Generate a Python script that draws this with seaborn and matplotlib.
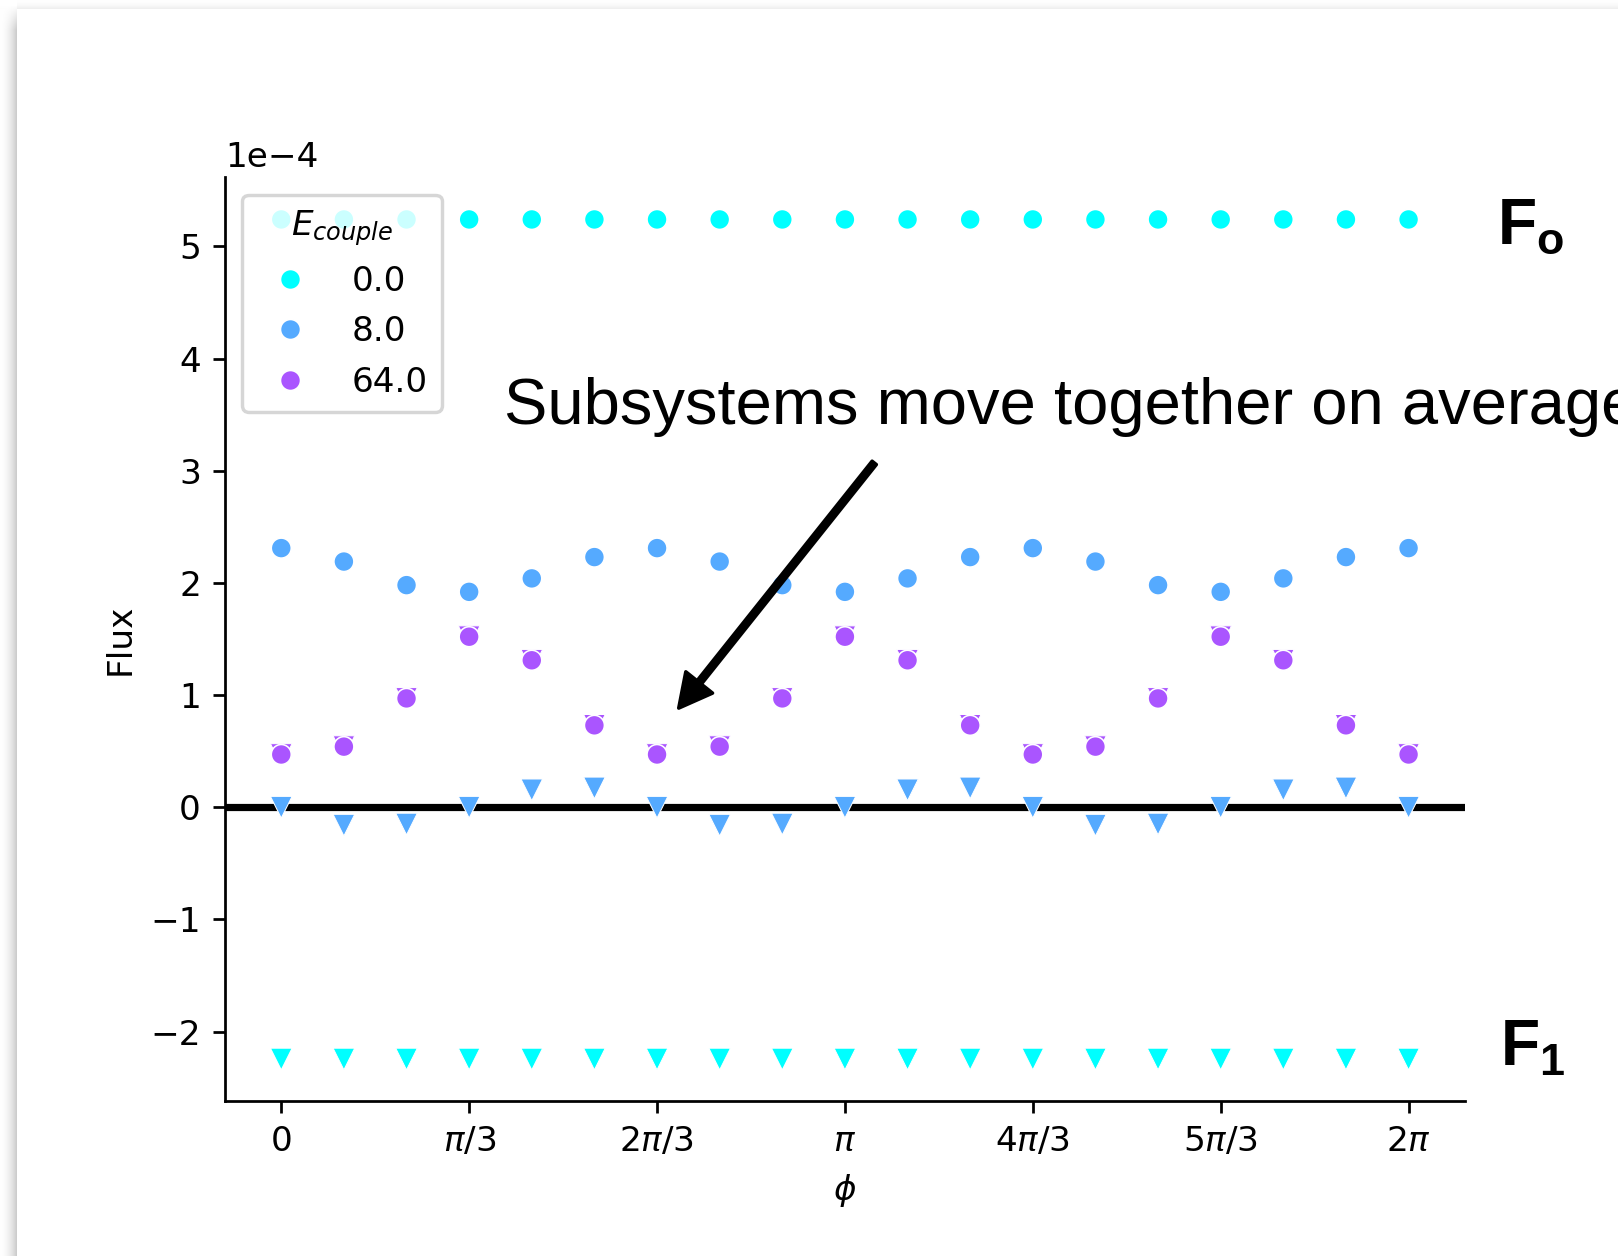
import numpy as np
import pandas as pd
import matplotlib
matplotlib.use('Agg')
import matplotlib.pyplot as plt
import seaborn as sns

W, H, DPI = 1618, 1256, 247

# phase grid in steps of pi/9 (0 .. 2pi)
phi_steps = [0, 1, 2, 3, 4, 5, 6, 7, 8, 9, 10, 11, 12, 13, 14, 15, 16, 17, 18]
ecouple_levels = ['0.0', '8.0', '64.0']
palette = ['#00ffff', '#55aaff', '#aa55ff']

# flux values (units of 1e-4)
flux_o_0 = [5.24, 5.24, 5.24, 5.24, 5.24, 5.24, 5.24, 5.24, 5.24, 5.24,
            5.24, 5.24, 5.24, 5.24, 5.24, 5.24, 5.24, 5.24, 5.24]
flux_1_0 = [-2.245, -2.245, -2.245, -2.245, -2.245, -2.245, -2.245, -2.245, -2.245, -2.245,
            -2.245, -2.245, -2.245, -2.245, -2.245, -2.245, -2.245, -2.245, -2.245]
flux_o_8 = [2.31, 2.19, 1.98, 1.92, 2.04, 2.23, 2.31, 2.19, 1.98, 1.92,
            2.04, 2.23, 2.31, 2.19, 1.98, 1.92, 2.04, 2.23, 2.31]
flux_1_8 = [0.00, -0.16, -0.15, 0.00, 0.155, 0.172, 0.00, -0.16, -0.15, 0.00,
            0.155, 0.172, 0.00, -0.16, -0.15, 0.00, 0.155, 0.172, 0.00]
flux_o_64 = [0.47, 0.54, 0.97, 1.52, 1.31, 0.73, 0.47, 0.54, 0.97, 1.52,
             1.31, 0.73, 0.47, 0.54, 0.97, 1.52, 1.31, 0.73, 0.47]
flux_1_64 = [0.47, 0.54, 0.97, 1.52, 1.31, 0.73, 0.47, 0.54, 0.97, 1.52,
             1.31, 0.73, 0.47, 0.54, 0.97, 1.52, 1.31, 0.73, 0.47]

tick_labels = ['0', r'$\pi/3$', r'$2\pi/3$', r'$\pi$', r'$4\pi/3$', r'$5\pi/3$', r'$2\pi$']

phi = np.array(phi_steps) * np.pi / 9


def long_df(series):
    frames = []
    for level, vals in zip(ecouple_levels, series):
        frames.append(pd.DataFrame({'phi': phi, 'flux': np.array(vals) * 1e-4, 'Ecouple': level}))
    return pd.concat(frames, ignore_index=True)


df_o = long_df([flux_o_0, flux_o_8, flux_o_64])
df_1 = long_df([flux_1_0, flux_1_8, flux_1_64])

plt.rcParams['mathtext.bf'] = 'Liberation Sans:bold'
plt.rcParams['mathtext.rm'] = 'Liberation Sans'

fig = plt.figure(figsize=(W / DPI, H / DPI), dpi=DPI)

# screenshot-like drop shadow on the left and top edges
bg = np.ones((H, W, 3))
xs = np.arange(17)
left = 1 - 0.2 * ((xs + 1) / 17.0) ** 2
bg[:, :17, :] = left[None, :, None]
ys = np.arange(9)
top = 1 - 0.06 * ((ys + 1) / 9.0) ** 2
bg[:9, :, :] = np.minimum(bg[:9, :, :], top[:, None, None])
fade = np.clip((np.arange(30) - 5) / 25.0, 0, 1)
bg[:30, :17, :] = 1 - (1 - bg[:30, :17, :]) * fade[:, None, None]
fig.figimage(bg, xo=0, yo=0, zorder=-1)

ax = fig.add_axes([0.139, 0.1234, 0.7664, 0.7353])

sns.scatterplot(data=df_1, x='phi', y='flux', hue='Ecouple', hue_order=ecouple_levels,
                palette=palette, marker='v', s=40, linewidth=0.3, legend=False, ax=ax)
sns.scatterplot(data=df_o, x='phi', y='flux', hue='Ecouple', hue_order=ecouple_levels,
                palette=palette, marker='o', s=34, ax=ax)

ax.axhline(0, color='black', lw=2.1, zorder=0.5)

ax.set_xticks(np.arange(7) * np.pi / 3)
ax.set_xticklabels(tick_labels)
ax.set_yticks(np.arange(-2, 6) * 1e-4)
ax.ticklabel_format(axis='y', style='sci', scilimits=(0, 0))
ax.set_xlabel(r'$\phi$')
ax.set_ylabel('Flux')
sns.despine(ax=ax)

ax.legend(title=r'$E_{couple}$', loc='upper left')

# annotation
ax.annotate('', xy=(2.215, 0.883e-4), xytext=(3.305, 3.07e-4),
            arrowprops=dict(facecolor='black', edgecolor='black', width=1.6,
                            headwidth=10, headlength=9.6, shrink=0))
ax.text(1.244, 3.419e-4, 'Subsystems move together on average', fontsize=19,
        family='Liberation Sans', va='baseline', ha='left', clip_on=False)
ax.text(6.776, 5.18e-4, r'$\mathbf{F_o}$', fontsize=18.7, math_fontfamily='custom',
        va='center', ha='left', clip_on=False)
ax.text(6.79, -2.147e-4, r'$\mathbf{F_1}$', fontsize=18.7, math_fontfamily='custom',
        va='center', ha='left', clip_on=False)

fig.savefig('out.png', dpi=DPI)
